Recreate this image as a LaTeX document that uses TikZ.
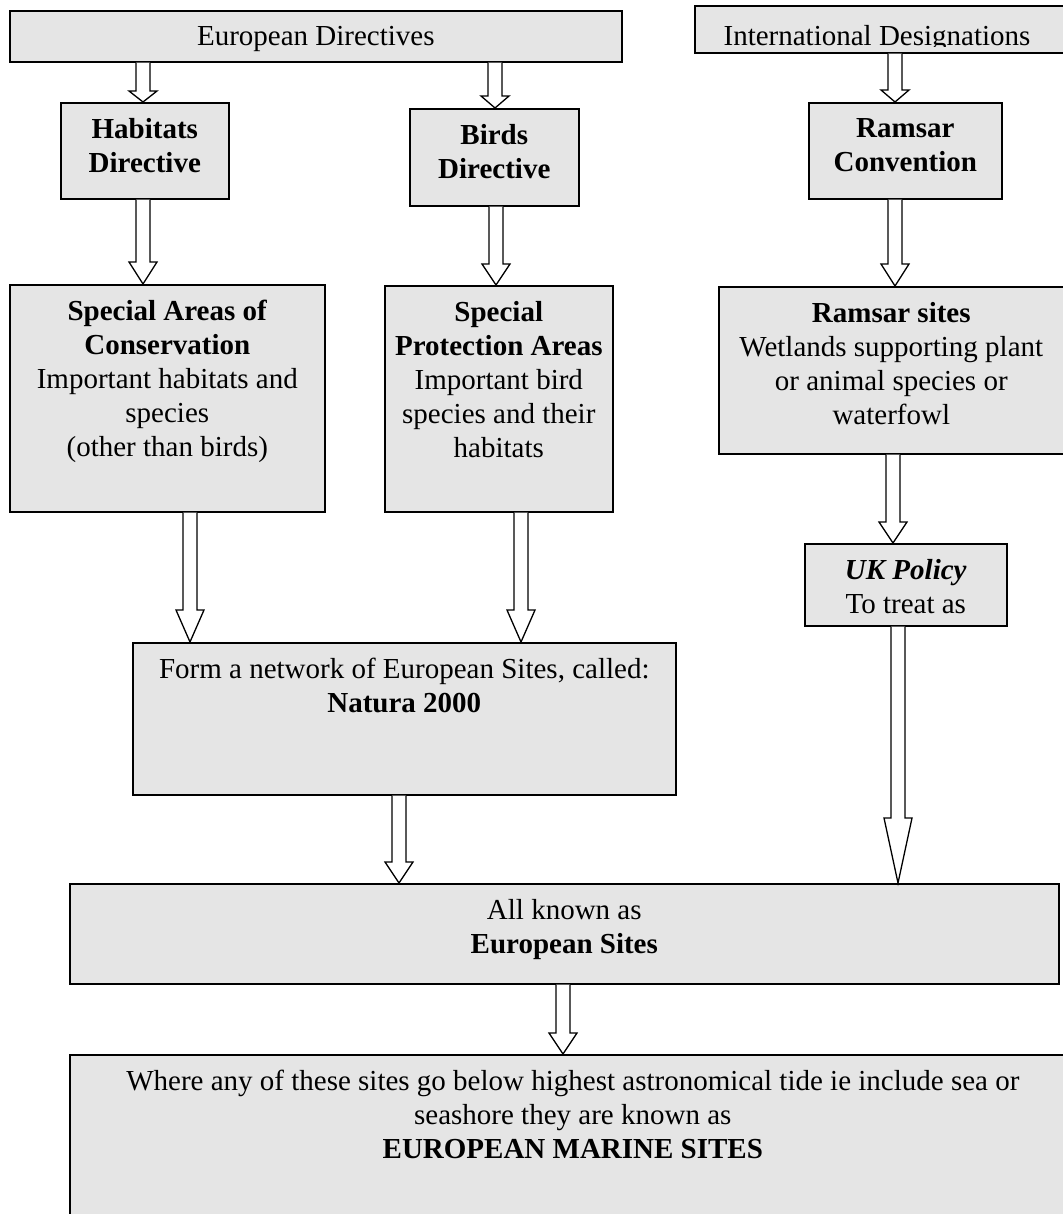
\documentclass[tikz,border=0pt]{standalone}
\usepackage{fontspec}
\setmainfont{Liberation Serif}
\usepackage{tikz}
\usetikzlibrary{calc}
\definecolor{boxgray}{gray}{0.9}
\tikzset{
	box/.style={draw=black, fill=boxgray, line width=1.6pt, inner sep=0pt},
	boxtext/.style={inner sep=0pt, align=center, font={\fontsize{29}{34}\selectfont}},
	arrowline/.style={draw=black, fill=white, line width=1.3pt, line join=miter}
}
% box from (#2,#3) to (#4,#5), text hung from its top edge
\def\sitebox#1#2#3#4#5#6{\node[box, anchor=north west, minimum width=#4pt-#2pt, minimum height=#5pt-#3pt] (#1) at (#2,#3) {};
	\node[boxtext, anchor=north] (#1-text) at ([yshift=-16pt]#1.north) {#6};}
% hollow block arrow, [head length](start)(tip)
\def\hollowarrow[#1](#2)(#3){\draw[arrowline] let \p1=(#2), \p2=(#3) in (\x1-7pt,\y1) -- (\x1-7pt,\y2+#1) -- (\x1-14pt,\y2+#1) -- (\x2,\y2) -- (\x1+14pt,\y2+#1) -- (\x1+7pt,\y2+#1) -- (\x1+7pt,\y1);}

\begin{document}
\begin{tikzpicture}[x=1pt, y=-1pt]
			%%%%% START %%%%%
			\useasboundingbox (0,0) rectangle (1062,1214);
			
			\sitebox{euro}{9}{10}{621}{61}{European Directives}
			\node[box, anchor=north west, minimum width=381pt, minimum height=47pt] (intl) at (694,5) {};
			\begin{scope}
				\clip (694,5) rectangle (1062,47);
				\node[boxtext, anchor=north] (intl-text) at ([yshift=-20pt]intl.north -| 877,0) {International Designations};
			\end{scope}
			
			\sitebox{habitats}{60}{102}{228}{198}{\textbf{Habitats}\\\textbf{Directive}}
			\sitebox{birds}{409}{108}{578}{205}{\textbf{Birds}\\\textbf{Directive}}
			\sitebox{ramconv}{808}{102}{1001}{198}{\textbf{Ramsar}\\\textbf{Convention}}
			
			\sitebox{sac}{9}{284}{324}{511}{\textbf{Special Areas of}\\\textbf{Conservation}\\Important habitats and\\species\\(other than birds)}
			\sitebox{spa}{384}{285}{612}{511}{\textbf{Special}\\\textbf{Protection Areas}\\Important bird\\species and their\\habitats}
			\sitebox{ramsites}{718}{286}{1063}{453}{\textbf{Ramsar sites}\\Wetlands supporting plant\\or animal species or\\waterfowl}
			\sitebox{ukpol}{804}{543}{1006}{625}{\textbf{\textit{UK Policy}}\\To treat as}
			
			\sitebox{natura}{132}{642}{675}{794}{Form a network of European Sites, called:\\\textbf{Natura 2000}}
			\sitebox{eusites}{69}{883}{1058}{983}{All known as\\\textbf{European Sites}}
			\sitebox{marine}{69}{1054}{1075}{1240}{Where any of these sites go below highest astronomical tide ie include sea or\\seashore they are known as\\\textbf{EUROPEAN MARINE SITES}}
			
			\hollowarrow[11pt](143,0 |- euro.south)(143,0 |- habitats.north);
			\hollowarrow[12pt](495,0 |- euro.south)(495,0 |- birds.north);
			\hollowarrow[12pt](895,0 |- intl.south)(895,0 |- ramconv.north);
			
			\hollowarrow[22pt](143,0 |- habitats.south)(143,0 |- sac.north);
			\hollowarrow[21pt](496,0 |- birds.south)(496,0 |- spa.north);
			\hollowarrow[22pt](895,0 |- ramconv.south)(895,0 |- ramsites.north);
			\hollowarrow[21pt](893,0 |- ramsites.south)(893,0 |- ukpol.north);
			
			\hollowarrow[32pt](190,0 |- sac.south)(190,0 |- natura.north);
			\hollowarrow[32pt](521,0 |- spa.south)(521,0 |- natura.north);
			\hollowarrow[65pt](898,0 |- ukpol.south)(898,0 |- eusites.north);
			\hollowarrow[21pt](399,0 |- natura.south)(399,0 |- eusites.north);
			\hollowarrow[21pt](563,0 |- eusites.south)(563,0 |- marine.north);
			
			%%%%% END %%%%%
\end{tikzpicture}
\end{document}
